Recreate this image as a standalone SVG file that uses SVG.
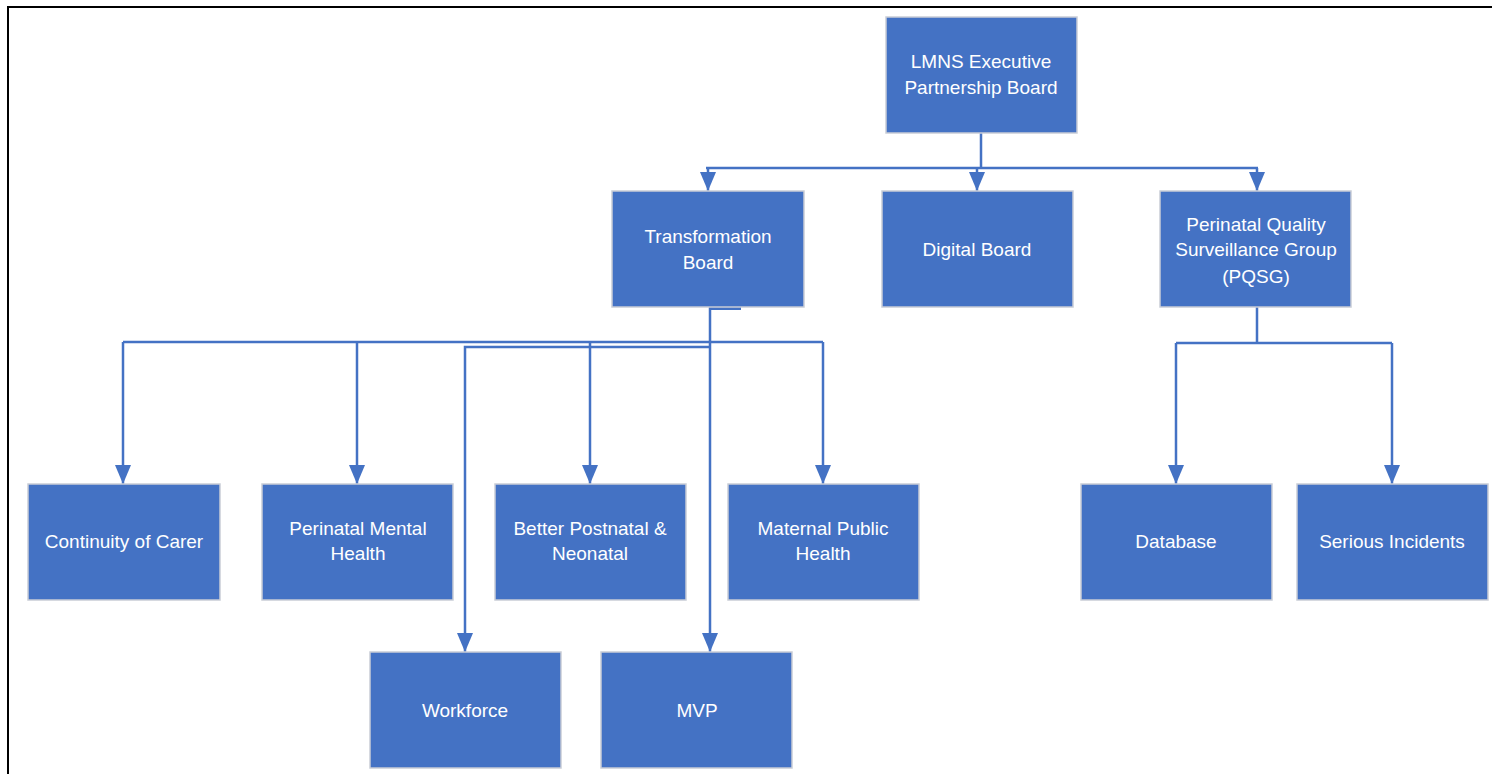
<svg xmlns="http://www.w3.org/2000/svg" width="1492" height="774" viewBox="0 0 1492 774">
<style>
.box{fill:#4472C4;stroke:#c9cdd6;stroke-width:1.5}
.lbl{font-family:"Liberation Sans",Arial,sans-serif;font-size:19px;fill:#ffffff;text-anchor:middle}
.con{fill:none;stroke:#4472C4;stroke-width:2.5}
</style>
<defs>
<marker id="ah" markerUnits="userSpaceOnUse" markerWidth="19" markerHeight="16" viewBox="0 0 19 16" refX="19" refY="8" orient="auto">
<path d="M0,0 L19,8 L0,16 z" fill="#4472C4"/>
</marker>
</defs>
<rect x="0" y="0" width="1492" height="774" fill="#ffffff"/>
<path d="M8,774 V7 H1492" fill="none" stroke="#000000" stroke-width="2"/>
<g id="connectors">
<path class="con" d="M981,133 V168 M706,168 H1258"/>
<path class="con" d="M708,168 V191" marker-end="url(#ah)"/>
<path class="con" d="M977,168 V191" marker-end="url(#ah)"/>
<path class="con" d="M1257,168 V191" marker-end="url(#ah)"/>
<rect x="709" y="306" width="32" height="4" fill="#4472C4"/>
<path class="con" d="M710,307 V652" marker-end="url(#ah)"/>
<path class="con" d="M123,342 H823"/>
<path class="con" d="M123,342 V484" marker-end="url(#ah)"/>
<path class="con" d="M357,342 V484" marker-end="url(#ah)"/>
<path class="con" d="M590,342 V484" marker-end="url(#ah)"/>
<path class="con" d="M823,342 V484" marker-end="url(#ah)"/>
<path class="con" d="M710,347 H465 V652" marker-end="url(#ah)"/>
<path class="con" d="M1257,307 V343 M1176,343 H1392"/>
<path class="con" d="M1176,343 V484" marker-end="url(#ah)"/>
<path class="con" d="M1392,343 V484" marker-end="url(#ah)"/>
</g>
<g id="lmns"><rect class="box" x="886" y="17" width="191" height="116"/><text class="lbl" x="981" y="68">LMNS Executive</text><text class="lbl" x="981" y="94">Partnership Board</text></g>
<g id="transformation"><rect class="box" x="612" y="191" width="192" height="116"/><text class="lbl" x="708" y="243">Transformation</text><text class="lbl" x="708" y="269">Board</text></g>
<g id="digital"><rect class="box" x="882" y="191" width="191" height="116"/><text class="lbl" x="977" y="256">Digital Board</text></g>
<g id="pqsg"><rect class="box" x="1160" y="191" width="191" height="116"/><text class="lbl" x="1256" y="231">Perinatal Quality</text><text class="lbl" x="1256" y="256">Surveillance Group</text><text class="lbl" x="1256" y="283">(PQSG)</text></g>
<g id="continuity"><rect class="box" x="28" y="484" width="192" height="116"/><text class="lbl" x="124" y="548">Continuity of Carer</text></g>
<g id="pmh"><rect class="box" x="262" y="484" width="191" height="116"/><text class="lbl" x="358" y="535">Perinatal Mental</text><text class="lbl" x="358" y="560">Health</text></g>
<g id="bpn"><rect class="box" x="495" y="484" width="191" height="116"/><text class="lbl" x="590" y="535">Better Postnatal &amp;</text><text class="lbl" x="590" y="560">Neonatal</text></g>
<g id="mph"><rect class="box" x="728" y="484" width="191" height="116"/><text class="lbl" x="823" y="535">Maternal Public</text><text class="lbl" x="823" y="560">Health</text></g>
<g id="database"><rect class="box" x="1081" y="484" width="191" height="116"/><text class="lbl" x="1176" y="548">Database</text></g>
<g id="serious"><rect class="box" x="1297" y="484" width="191" height="116"/><text class="lbl" x="1392" y="548">Serious Incidents</text></g>
<g id="workforce"><rect class="box" x="370" y="652" width="191" height="116"/><text class="lbl" x="465" y="717">Workforce</text></g>
<g id="mvp"><rect class="box" x="601" y="652" width="191" height="116"/><text class="lbl" x="697" y="717">MVP</text></g>
</svg>
